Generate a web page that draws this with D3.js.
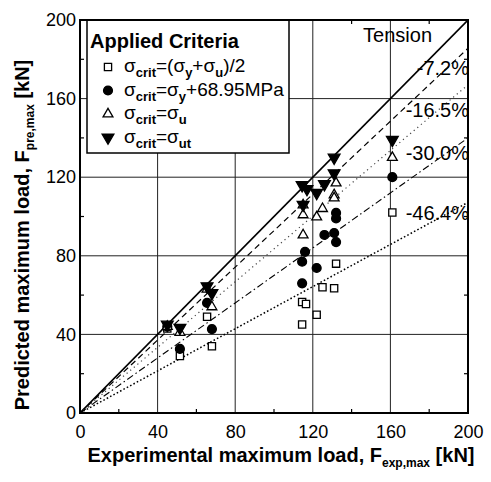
<!DOCTYPE html>
<html>
<head>
<meta charset="utf-8">
<script src="https://cdn.jsdelivr.net/npm/d3@7"></script>
<style>
  body { margin: 0; background: #fff; }
  svg { display: block; }
  text { font-family: "Liberation Sans", Arial, Helvetica, sans-serif; fill: #000; }
</style>
</head>
<body>
<svg id="chart" width="491" height="482"></svg>
<script>
// Tick values shared by both axes [kN]
const majorTicks = [0, 40, 80, 120, 160, 200];
const minorTicks = [20, 60, 100, 140, 180];

// Error bands: predicted = (1 + p/100) * experimental
const errorPercents = [-7.2, -16.5, -30.0, -46.4];
const errorLabels = ["-7.2%", "-16.5%", "-30.0%", "-46.4%"];

// Criterion 1: sigma_crit = (sigma_y + sigma_u)/2  (open squares)
const expHalf  = [45, 51.5, 65.5, 68, 114.5, 116.5, 114.5, 122, 125, 132, 131, 161];
const predHalf = [43, 29,   49,   34, 56.5,  55.5,  45,    50,  64,  76,  63.5, 102];

// Criterion 2: sigma_crit = sigma_y + 68.95 MPa  (filled circles)
const expYield  = [45, 51.5, 65.5, 68,   116, 114.5, 114.5, 122,  126,  132,   132, 131,  132, 161];
const predYield = [44, 32.6, 56,   42.7, 82,  77,    66,    73.8, 90.6, 101.8, 99,  91.6, 87,  120];

// Criterion 3: sigma_crit = sigma_u  (open up-triangles)
const expUlt  = [45, 51.5, 65.5, 68, 115,   115,   115,  122,  125, 132, 131, 131,   161];
const predUlt = [44, 41,   63,   54, 105.8, 100.8, 90.6, 99.7, 104, 117, 111, 109.4, 130];

// Criterion 4: sigma_crit = sigma_ut  (filled down-triangles)
const expUt  = [45, 51.5, 65.5, 68, 114.5, 117, 122, 126,   115, 131, 131, 161];
const predUt = [45, 43.3, 64.5, 61, 116,   114, 112, 116.5, 106, 122, 130, 139];

const svg = d3.select("#chart");
const x = d3.scaleLinear().domain([0, 200]).range([80, 468]);
const y = d3.scaleLinear().domain([0, 200]).range([413, 20]);

svg.append("defs").append("clipPath").attr("id", "plotClip")
  .append("rect").attr("x", x(0)).attr("y", y(200))
  .attr("width", x(200) - x(0)).attr("height", y(0) - y(200));

// Grid lines
const grid = svg.append("g").attr("stroke", "#222").attr("stroke-width", 1);
majorTicks.slice(1, -1).forEach(v => {
  grid.append("line").attr("x1", x(v)).attr("x2", x(v)).attr("y1", y(0)).attr("y2", y(200));
  grid.append("line").attr("x1", x(0)).attr("x2", x(200)).attr("y1", y(v)).attr("y2", y(v));
});

// Minor ticks, pointing inward on all four sides
const mt = svg.append("g").attr("stroke", "#000").attr("stroke-width", 1.2);
minorTicks.forEach(v => {
  mt.append("line").attr("x1", x(v)).attr("x2", x(v)).attr("y1", y(0)).attr("y2", y(0) - 4);
  mt.append("line").attr("x1", x(v)).attr("x2", x(v)).attr("y1", y(200)).attr("y2", y(200) + 4);
  mt.append("line").attr("x1", x(0)).attr("x2", x(0) + 4).attr("y1", y(v)).attr("y2", y(v));
  mt.append("line").attr("x1", x(200)).attr("x2", x(200) - 4).attr("y1", y(v)).attr("y2", y(v));
});

// Reference lines
const lines = svg.append("g").attr("clip-path", "url(#plotClip)").attr("fill", "none");
lines.append("line")
  .attr("x1", x(0)).attr("y1", y(0)).attr("x2", x(200)).attr("y2", y(200))
  .attr("stroke", "#000").attr("stroke-width", 1.6);
const lineStyles = [
  { dash: "6,4", width: 1.2, color: "#000" },
  { dash: "1.2,3.5", width: 1.2, color: "#444" },
  { dash: "7,3,1.5,3", width: 1.1, color: "#000" },
  { dash: "1.6,2.2", width: 1.5, color: "#000" }
];
errorPercents.forEach((p, i) => {
  const k = 1 + p / 100;
  lines.append("line")
    .attr("x1", x(0)).attr("y1", y(0)).attr("x2", x(200)).attr("y2", y(200 * k))
    .attr("stroke", lineStyles[i].color)
    .attr("stroke-width", lineStyles[i].width)
    .attr("stroke-dasharray", lineStyles[i].dash);
});

// Legend box (white, covers the grid)
const legend = svg.append("g");
legend.append("rect").attr("x", 87).attr("y", 20).attr("width", 202).attr("height", 133)
  .attr("fill", "#fff").attr("stroke", "#000").attr("stroke-width", 1.5);

// Marker drawing helpers
const sym = {
  square: d3.symbol().type(d3.symbolSquare).size(52)(),
  circle: d3.symbol().type(d3.symbolCircle).size(62)(),
  up: d3.symbol().type(d3.symbolTriangle).size(42)(),
  down: d3.symbol().type(d3.symbolTriangle).size(60)()
};
const series = [
  { xs: expHalf,  ys: predHalf,  path: sym.square, filled: false, rot: 0 },
  { xs: expYield, ys: predYield, path: sym.circle, filled: true,  rot: 0 },
  { xs: expUlt,   ys: predUlt,   path: sym.up,     filled: false, rot: 0 },
  { xs: expUt,    ys: predUt,    path: sym.down,   filled: true,  rot: 180 }
];
function drawMarker(g, s, cx, cy) {
  g.append("path").attr("d", s.path)
    .attr("transform", `translate(${cx},${cy}) rotate(${s.rot})`)
    .attr("fill", s.filled ? "#000" : "#fff")
    .attr("stroke", "#000").attr("stroke-width", 1.3);
}
const pts = svg.append("g");
series.forEach(s => {
  s.xs.forEach((v, i) => drawMarker(pts, s, x(v), y(s.ys[i])));
});

// Legend contents
legend.append("text").attr("x", 90).attr("y", 48)
  .attr("font-size", 20).attr("font-weight", "bold").text("Applied Criteria");
const legendRows = [
  [["σ", 0], ["crit", 1], ["=(σ", 0], ["y", 1], ["+σ", 0], ["u", 1], [")/2", 0]],
  [["σ", 0], ["crit", 1], ["=σ", 0], ["y", 1], ["+68.95MPa", 0]],
  [["σ", 0], ["crit", 1], ["=σ", 0], ["u", 1]],
  [["σ", 0], ["crit", 1], ["=σ", 0], ["ut", 1]]
];
legendRows.forEach((parts, r) => {
  const cy = 67 + r * 23.5;
  drawMarker(legend, series[r], 108, cy);
  const t = legend.append("text").attr("x", 124).attr("y", cy + 5).attr("font-size", 19);
  let sub = false;
  parts.forEach(([txt, isSub]) => {
    const ts = t.append("tspan").text(txt);
    if (isSub) ts.attr("font-size", 13).attr("font-weight", "bold");
    if (isSub && !sub) ts.attr("dy", 5);
    if (!isSub && sub) ts.attr("dy", -5);
    sub = !!isSub;
  });
});

// Band labels
svg.append("text").attr("x", 432).attr("y", 42).attr("text-anchor", "end")
  .attr("font-size", 20).text("Tension");
const labelYs = [75, 117, 160, 220];
errorLabels.forEach((lab, i) => {
  svg.append("text").attr("x", 469).attr("y", labelYs[i]).attr("text-anchor", "end")
    .attr("font-size", 20).text(lab);
});

// Axes
const xAxis = svg.append("g").attr("transform", `translate(0,${y(0)})`)
  .call(d3.axisBottom(x).tickValues(majorTicks).tickSize(0).tickPadding(12));
const yAxis = svg.append("g").attr("transform", `translate(${x(0)},0)`)
  .call(d3.axisLeft(y).tickValues(majorTicks).tickSize(0).tickPadding(4));
[xAxis, yAxis].forEach(a => {
  a.select(".domain").remove();
  a.selectAll("text").attr("font-size", 18).attr("font-family", "Liberation Sans, Arial, sans-serif").attr("fill", "#000");
});

// Plot frame
svg.append("rect").attr("x", x(0)).attr("y", y(200))
  .attr("width", x(200) - x(0)).attr("height", y(0) - y(200))
  .attr("fill", "none").attr("stroke", "#000").attr("stroke-width", 2);

// Axis titles
const xt = svg.append("text").attr("x", 281).attr("y", 462).attr("text-anchor", "middle")
  .attr("font-size", 20).attr("font-weight", "bold");
xt.append("tspan").text("Experimental maximum load, F");
xt.append("tspan").attr("dy", 5).attr("font-size", 12).text("exp,max");
xt.append("tspan").attr("dy", -5).text(" [kN]");

const yt = svg.append("text").attr("transform", "translate(29,235) rotate(-90)")
  .attr("text-anchor", "middle").attr("font-size", 20).attr("font-weight", "bold");
yt.append("tspan").text("Predicted maximum load, F");
yt.append("tspan").attr("dy", 5).attr("font-size", 12).text("pre,max");
yt.append("tspan").attr("dy", -5).text(" [kN]");
</script>
</body>
</html>
